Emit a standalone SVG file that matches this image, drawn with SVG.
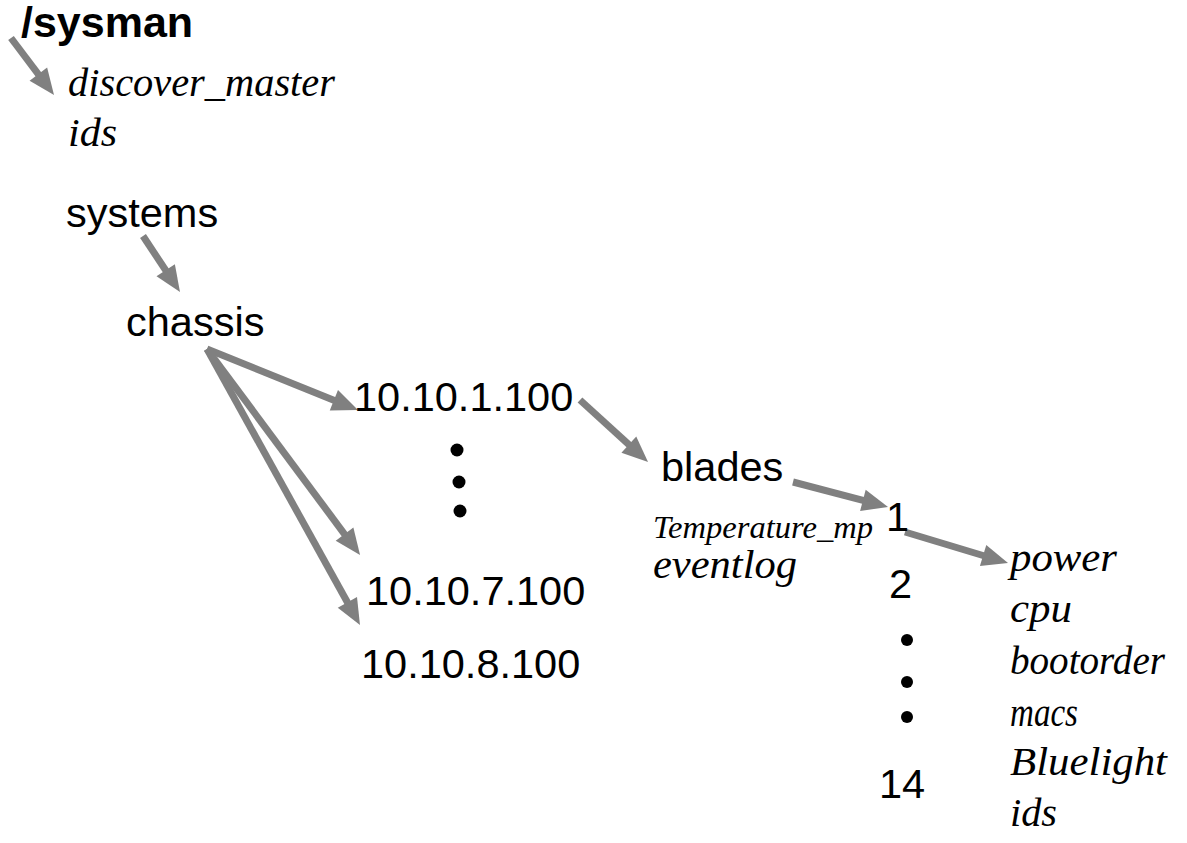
<svg xmlns="http://www.w3.org/2000/svg" width="1187" height="843" viewBox="0 0 1187 843">
<style>
.s{font-family:"Liberation Sans",Arial,sans-serif;font-size:41.5px;fill:#000}
.b{font-weight:bold;font-size:43px}
.i{font-family:"Liberation Serif","DejaVu Serif",serif;font-style:italic;font-size:40px;fill:#000}
.t{font-size:31px}
.c{stroke:#808080;stroke-width:7;fill:none}
</style>
<defs>
<marker id="ah" markerUnits="userSpaceOnUse" markerWidth="26" markerHeight="22" refX="12" refY="11" orient="auto" overflow="visible">
<path d="M0,0 L26,11 L0,22 Z" fill="#808080"/>
</marker>
</defs>
<rect width="1187" height="843" fill="#fff"/>
<g id="connectors">
<line class="c" x1="11" y1="38" x2="45.6" y2="83.8" marker-end="url(#ah)"/>
<line class="c" x1="143" y1="236" x2="172.3" y2="280.3" marker-end="url(#ah)"/>
<line class="c" x1="207" y1="349" x2="345" y2="404.8" marker-end="url(#ah)"/>
<line class="c" x1="207" y1="349" x2="351.7" y2="543.8" marker-end="url(#ah)"/>
<line class="c" x1="207" y1="349" x2="353.2" y2="612.8" marker-end="url(#ah)"/>
<line class="c" x1="580" y1="400" x2="637.7" y2="452.6" marker-end="url(#ah)"/>
<line class="c" x1="793" y1="482" x2="874.5" y2="503.4" marker-end="url(#ah)"/>
<line class="c" x1="905" y1="532" x2="994.6" y2="559" marker-end="url(#ah)"/>
</g>
<g id="sysman"><text class="s b" x="21" y="37">/sysman</text></g>
<g id="sysman-attrs">
<text class="i" x="68" y="96" textLength="267" lengthAdjust="spacingAndGlyphs">discover_master</text>
<text class="i" x="68" y="146" textLength="49" lengthAdjust="spacingAndGlyphs">ids</text>
</g>
<g id="systems"><text class="s" x="66" y="227">systems</text></g>
<g id="chassis"><text class="s" x="126" y="336">chassis</text></g>
<g id="ip1"><text class="s" x="354" y="411">10.10.1.100</text></g>
<g id="ip-dots">
<circle cx="457" cy="450" r="6.5"/>
<circle cx="459" cy="482" r="6.5"/>
<circle cx="460" cy="511" r="6.5"/>
</g>
<g id="ip7"><text class="s" x="366" y="605">10.10.7.100</text></g>
<g id="ip8"><text class="s" x="361" y="678">10.10.8.100</text></g>
<g id="blades"><text class="s" x="661" y="481">blades</text></g>
<g id="blades-attrs">
<text class="i t" x="653" y="538" textLength="220" lengthAdjust="spacingAndGlyphs">Temperature_mp</text>
<text class="i" x="653" y="578" textLength="144" lengthAdjust="spacingAndGlyphs">eventlog</text>
</g>
<g id="blade1"><text class="s" x="886" y="531">1</text></g>
<g id="blade2"><text class="s" x="889" y="598">2</text></g>
<g id="blade-dots">
<circle cx="907" cy="640" r="6"/>
<circle cx="907" cy="682" r="6"/>
<circle cx="907" cy="717" r="6"/>
</g>
<g id="blade14"><text class="s" x="879" y="798">14</text></g>
<g id="blade-attrs">
<text class="i" x="1010" y="571" textLength="107" lengthAdjust="spacingAndGlyphs">power</text>
<text class="i" x="1010" y="622" textLength="62" lengthAdjust="spacingAndGlyphs">cpu</text>
<text class="i" x="1010" y="674" textLength="155" lengthAdjust="spacingAndGlyphs">bootorder</text>
<text class="i" x="1010" y="726" textLength="68" lengthAdjust="spacingAndGlyphs">macs</text>
<text class="i" x="1010" y="775" textLength="157" lengthAdjust="spacingAndGlyphs">Bluelight</text>
<text class="i" x="1010" y="826" textLength="47" lengthAdjust="spacingAndGlyphs">ids</text>
</g>
</svg>
